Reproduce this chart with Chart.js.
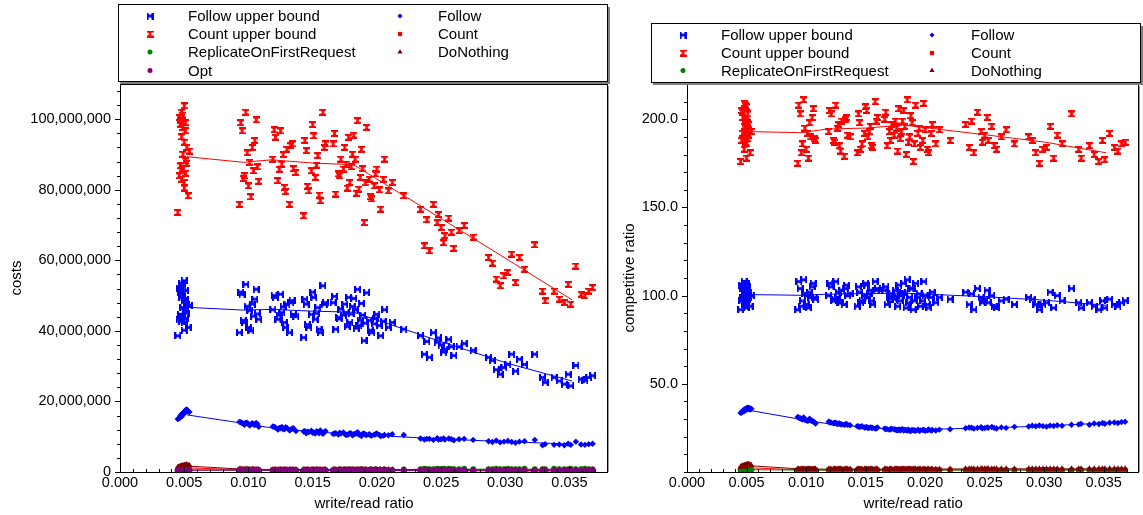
<!DOCTYPE html>
<html>
<head>
<meta charset="utf-8">
<script src="https://cdn.jsdelivr.net/npm/chart.js"></script>
<style>
  body { margin: 0; background: #fff; }
  #wrap { position: relative; width: 1143px; height: 515px; }
  .panel { position: absolute; top: 0; }
  #left { left: 0; }
  #right { left: 615px; }
</style>
</head>
<body>
<div id="wrap">
  <div class="panel" id="left"><canvas id="costChart" width="615" height="515"></canvas></div>
  <div class="panel" id="right"><canvas id="ratioChart" width="528" height="515"></canvas></div>
</div>
<script>
// write/read ratio of every run (clusters A..H, then a second batch of runs)
const ratio = [
  0.0045, 0.0046, 0.0047, 0.0047, 0.0048, 0.0048, 0.0049, 0.0049, 0.0050, 0.0050, 0.0051, 0.0051, 0.0052, 0.0053,
  0.0093, 0.0095, 0.0097, 0.0098, 0.0100, 0.0101, 0.0103, 0.0104, 0.0106, 0.0108,
  0.0119, 0.0121, 0.0123, 0.0125, 0.0126, 0.0128, 0.0130, 0.0132, 0.0134, 0.0137,
  0.0143, 0.0145, 0.0147, 0.0149, 0.0151, 0.0152, 0.0154, 0.0156, 0.0158, 0.0160,
  0.0166, 0.0168, 0.0170, 0.0172, 0.0174, 0.0176, 0.0178, 0.0179, 0.0181, 0.0183, 0.0185,
  0.0186, 0.0188, 0.0190, 0.0192, 0.0194, 0.0196, 0.0198, 0.0200, 0.0203, 0.0206, 0.0209,
  0.0212, 0.0221,
  0.0234, 0.0237, 0.0241, 0.0244, 0.0247, 0.0250, 0.0253, 0.0256, 0.0260, 0.0264, 0.0268, 0.0275,
  0.0287, 0.0290, 0.0293, 0.0296, 0.0299, 0.0302, 0.0305, 0.0308, 0.0311, 0.0315,
  0.0323,
  0.0329, 0.0331, 0.0338, 0.0342, 0.0346, 0.0349, 0.0351, 0.0355, 0.0359, 0.0362, 0.0365, 0.0368,
  // second batch
  0.0046, 0.0047, 0.0048, 0.0048, 0.0049, 0.0049, 0.0050, 0.0050, 0.0051, 0.0051, 0.0052, 0.0054,
  0.0094, 0.0096, 0.0099, 0.0102, 0.0105, 0.0107,
  0.0120, 0.0124, 0.0127, 0.0129, 0.0133, 0.0135,
  0.0144, 0.0146, 0.0150, 0.0153, 0.0155, 0.0159,
  0.0167, 0.0171, 0.0175, 0.0177, 0.0180, 0.0182, 0.0184, 0.0187, 0.0189, 0.0191, 0.0195, 0.0199, 0.0202, 0.0205,
  0.0239, 0.0248, 0.0252, 0.0258
];

// costs, in millions
const countUpper = [
  73.6, 84.0, 86.8, 99.6, 102.0, 85.4, 97.7, 90.1, 103.8, 82.1, 96.7, 88.2, 92.0, 78.3,
  75.9, 96.7, 84.0, 102.0, 81.1, 87.8, 92.0, 85.4, 99.8, 82.4,
  88.7, 94.9, 82.6, 96.7, 87.3, 80.7, 91.5, 75.9, 93.0, 84.9,
  72.6, 91.1, 79.7, 85.4, 95.3, 83.5, 89.7, 76.9, 102.0, 93.0,
  93.0, 78.8, 84.5, 88.7, 85.9, 87.3, 94.9, 82.1, 90.1, 88.7, 99.6,
  80.2, 91.5, 70.7, 97.7, 83.0, 77.4, 81.1, 85.9, 74.5, 88.7, 79.7,
  82.1, 78.3,
  74.5, 64.1, 62.7, 75.9, 70.7, 69.3, 67.0, 72.0, 63.4, 68.4, 69.9, 66.6,
  60.8, 59.2, 54.7, 52.8, 55.6, 56.6, 61.8, 53.7, 60.8, 57.5,
  64.4,
  51.3, 48.5, 51.3, 49.0, 48.1, 53.2, 47.6, 58.4, 50.4, 49.9, 51.3, 52.3,
  100.5, 98.6, 95.0, 83.0, 101.2, 86.0, 93.5, 80.5, 99.0, 84.7, 87.5, 91.0,
  99.0, 83.2, 90.5, 78.0, 94.0, 86.5,
  97.0, 85.8, 90.0, 79.5, 92.5, 86.0,
  94.0, 81.0, 98.5, 87.0, 78.5, 92.0,
  96.0, 84.0, 92.0, 80.5, 86.5, 95.5, 79.0, 83.5, 86.0, 82.0, 78.0, 84.5, 80.0, 83.0,
  71.5, 73.0, 65.0, 68.0
];
const followUpper = [
  38.6, 43.3, 44.7, 51.8, 53.5, 44.2, 50.4, 46.6, 54.2, 42.4, 49.0, 45.7, 47.6, 41.0,
  39.5, 50.4, 42.4, 53.2, 41.0, 45.7, 47.6, 44.2, 51.8, 43.3,
  46.0, 49.5, 43.3, 50.4, 45.2, 42.4, 47.6, 39.5, 48.5, 44.2,
  38.1, 47.6, 41.0, 44.7, 49.5, 43.3, 46.6, 39.5, 52.8, 48.0,
  48.0, 40.5, 43.8, 46.2, 44.5, 45.2, 49.5, 42.4, 47.0, 46.0, 51.8,
  41.5, 47.8, 37.2, 50.8, 43.0, 39.5, 42.0, 44.7, 38.6, 46.0, 41.0,
  42.4, 40.5,
  38.6, 33.4, 32.5, 39.5, 36.8, 36.0, 34.8, 37.6, 33.0, 35.5, 36.4, 34.5,
  32.5, 31.6, 29.0, 27.7, 29.6, 30.5, 33.4, 28.6, 32.0, 30.5,
  33.4,
  26.8, 25.4, 26.8, 25.8, 24.9, 27.7, 24.4, 30.2, 26.3, 26.0, 26.8, 27.3,
  52.0, 51.0, 49.5, 42.8, 52.8, 44.0, 48.5, 40.2, 51.5, 43.5, 45.0, 47.2,
  51.0, 43.0, 47.0, 40.0, 49.0, 44.8,
  50.0, 44.5, 46.8, 41.0, 48.0, 44.6,
  49.0, 41.8, 51.0, 45.0, 40.5, 47.5,
  49.8, 43.5, 47.6, 41.2, 44.8, 49.2, 40.8, 43.0, 44.5, 42.2, 40.2, 43.6, 41.5, 42.8,
  37.0, 38.0, 34.0, 35.5
];
const follow = [
  15.0, 15.3, 15.6, 15.9, 16.1, 16.4, 16.5, 16.7, 16.8, 17.0, 17.2, 17.5, 17.7, 17.2,
  14.2, 13.9, 13.4, 14.0, 13.6, 13.2, 13.8, 13.5, 13.9, 12.8,
  12.9, 12.6, 12.0, 12.4, 12.8, 12.1, 12.5, 11.8, 12.3, 11.6,
  11.5, 11.0, 11.3, 11.7, 11.2, 10.9, 11.4, 11.8, 10.8, 11.6,
  10.8, 11.0, 10.6, 10.9, 11.2, 10.5, 10.7, 11.0, 10.4, 10.8, 11.3,
  10.6, 10.2, 10.9, 10.5, 10.7, 10.3, 10.6, 10.9, 10.2, 10.5, 10.4,
  10.7, 10.5,
  9.5, 9.2, 9.4, 9.1, 9.6, 9.3, 9.2, 9.5, 9.0, 9.3, 9.4, 9.1,
  8.7, 8.5, 8.9, 8.4, 8.6, 8.8, 8.5, 8.3, 8.6, 8.7,
  9.1,
  7.6, 7.9, 7.7, 7.8, 7.6, 8.0, 7.7, 8.6, 7.8, 7.7, 7.9, 8.0,
  15.2, 15.8, 16.2, 15.7, 16.6, 16.3, 16.9, 17.1, 17.4, 16.9, 17.6, 17.0,
  14.1, 13.7, 13.9, 13.5, 13.3, 13.6,
  12.8, 12.5, 12.2, 12.7, 12.0, 12.4,
  11.6, 11.4, 11.1, 11.5, 11.0, 11.3,
  10.9, 11.1, 10.8, 10.6, 10.9, 10.7, 11.0, 10.5, 10.8, 10.6, 10.4, 10.7, 10.5, 10.3,
  9.4, 9.2, 9.5, 9.3
];
const count = [
  1.0, 1.0, 1.1, 1.1, 1.1, 1.2, 1.1, 1.2, 1.2, 1.2, 1.3, 1.2, 1.3, 1.2,
  0.6, 0.6, 0.5, 0.6, 0.5, 0.6, 0.5, 0.6, 0.5, 0.5,
  0.5, 0.5, 0.5, 0.5, 0.5, 0.5, 0.5, 0.5, 0.5, 0.5,
  0.5, 0.5, 0.5, 0.5, 0.5, 0.5, 0.5, 0.5, 0.5, 0.5,
  0.5, 0.5, 0.5, 0.5, 0.5, 0.5, 0.5, 0.5, 0.5, 0.5, 0.5,
  0.5, 0.5, 0.5, 0.5, 0.5, 0.5, 0.5, 0.5, 0.5, 0.5, 0.5,
  0.5, 0.5,
  0.4, 0.4, 0.4, 0.4, 0.4, 0.4, 0.4, 0.4, 0.4, 0.4, 0.4, 0.4,
  0.4, 0.4, 0.4, 0.4, 0.4, 0.4, 0.4, 0.4, 0.4, 0.4,
  0.4,
  0.4, 0.4, 0.4, 0.4, 0.4, 0.4, 0.4, 0.4, 0.4, 0.4, 0.4, 0.4,
  1.0, 1.1, 1.1, 1.1, 1.2, 1.1, 1.2, 1.2, 1.2, 1.2, 1.3, 1.2,
  0.6, 0.6, 0.5, 0.5, 0.5, 0.5,
  0.5, 0.5, 0.5, 0.5, 0.5, 0.5,
  0.5, 0.5, 0.5, 0.5, 0.5, 0.5,
  0.5, 0.5, 0.5, 0.5, 0.5, 0.5, 0.5, 0.5, 0.5, 0.5, 0.5, 0.5, 0.5, 0.5,
  0.4, 0.4, 0.4, 0.4
];
const replicate = [
  0.6, 0.5, 0.6, 0.6, 0.7, 0.6, 0.6, 0.7, 0.6, 0.7, 0.6, 0.7, 0.7, 0.6,
  0.6, 0.6, 0.6, 0.6, 0.6, 0.6, 0.6, 0.6, 0.6, 0.6,
  0.6, 0.6, 0.6, 0.6, 0.6, 0.6, 0.6, 0.6, 0.6, 0.6,
  0.6, 0.6, 0.6, 0.6, 0.6, 0.6, 0.6, 0.6, 0.6, 0.6,
  0.6, 0.6, 0.6, 0.7, 0.6, 0.6, 0.6, 0.7, 0.6, 0.6, 0.6,
  0.6, 0.7, 0.6, 0.6, 0.6, 0.7, 0.6, 0.6, 0.6, 0.7, 0.6,
  0.6, 0.7,
  0.8, 0.9, 0.8, 0.8, 0.9, 0.8, 0.8, 0.9, 0.8, 0.8, 0.9, 0.8,
  0.8, 0.8, 0.9, 0.8, 0.8, 0.9, 0.8, 0.8, 0.8, 0.9,
  0.8,
  0.8, 0.8, 0.9, 0.8, 0.8, 0.8, 0.9, 0.8, 0.8, 0.9, 0.8, 0.8,
  0.6, 0.6, 0.7, 0.6, 0.6, 0.7, 0.6, 0.6, 0.7, 0.6, 0.6, 0.6,
  0.6, 0.6, 0.6, 0.6, 0.6, 0.6,
  0.6, 0.6, 0.6, 0.6, 0.6, 0.6,
  0.6, 0.6, 0.6, 0.6, 0.6, 0.6,
  0.6, 0.6, 0.7, 0.6, 0.6, 0.6, 0.6, 0.7, 0.6, 0.6, 0.6, 0.7, 0.6, 0.6,
  0.8, 0.8, 0.9, 0.8
];
const doNothing = [
  1.3, 1.4, 1.5, 1.6, 1.5, 1.7, 1.6, 1.8, 1.7, 1.9, 1.8, 1.9, 2.0, 1.8,
  0.8, 0.8, 0.7, 0.8, 0.7, 0.7, 0.8, 0.7, 0.7, 0.7,
  0.7, 0.7, 0.7, 0.7, 0.7, 0.7, 0.7, 0.7, 0.7, 0.7,
  0.7, 0.7, 0.7, 0.7, 0.7, 0.7, 0.7, 0.7, 0.7, 0.7,
  0.7, 0.7, 0.7, 0.7, 0.7, 0.7, 0.7, 0.7, 0.7, 0.7, 0.7,
  0.7, 0.7, 0.7, 0.7, 0.7, 0.7, 0.7, 0.7, 0.7, 0.7, 0.7,
  0.7, 0.7,
  0.6, 0.6, 0.6, 0.6, 0.6, 0.6, 0.6, 0.6, 0.6, 0.6, 0.6, 0.6,
  0.6, 0.6, 0.6, 0.6, 0.6, 0.6, 0.6, 0.6, 0.6, 0.6,
  0.6,
  0.6, 0.6, 0.6, 0.6, 0.6, 0.6, 0.6, 0.6, 0.6, 0.6, 0.6, 0.6,
  1.4, 1.5, 1.6, 1.5, 1.7, 1.6, 1.8, 1.7, 1.9, 1.8, 2.0, 1.9,
  0.8, 0.7, 0.8, 0.7, 0.7, 0.7,
  0.7, 0.7, 0.7, 0.7, 0.7, 0.7,
  0.7, 0.7, 0.7, 0.7, 0.7, 0.7,
  0.7, 0.7, 0.7, 0.7, 0.7, 0.7, 0.7, 0.7, 0.7, 0.7, 0.7, 0.7, 0.7, 0.7,
  0.6, 0.6, 0.6, 0.6
];
const opt = [
  0.4, 0.5, 0.5, 0.5, 0.5, 0.5, 0.5, 0.5, 0.5, 0.5, 0.5, 0.5, 0.5, 0.5,
  0.5, 0.5, 0.5, 0.5, 0.5, 0.5, 0.5, 0.5, 0.5, 0.4,
  0.5, 0.5, 0.4, 0.5, 0.5, 0.4, 0.5, 0.4, 0.5, 0.4,
  0.4, 0.4, 0.4, 0.4, 0.4, 0.4, 0.4, 0.4, 0.4, 0.4,
  0.4, 0.4, 0.4, 0.4, 0.4, 0.4, 0.4, 0.4, 0.4, 0.4, 0.4,
  0.4, 0.4, 0.4, 0.4, 0.4, 0.4, 0.4, 0.4, 0.4, 0.4, 0.4,
  0.4, 0.4,
  0.4, 0.4, 0.4, 0.4, 0.4, 0.4, 0.4, 0.4, 0.3, 0.4, 0.4, 0.3,
  0.3, 0.3, 0.3, 0.3, 0.3, 0.3, 0.3, 0.3, 0.3, 0.3,
  0.3,
  0.3, 0.3, 0.3, 0.3, 0.3, 0.3, 0.3, 0.3, 0.3, 0.3, 0.3, 0.3,
  0.5, 0.5, 0.5, 0.5, 0.5, 0.5, 0.5, 0.5, 0.5, 0.5, 0.5, 0.5,
  0.5, 0.5, 0.5, 0.5, 0.5, 0.5,
  0.5, 0.5, 0.4, 0.5, 0.4, 0.4,
  0.4, 0.4, 0.4, 0.4, 0.4, 0.4,
  0.4, 0.4, 0.4, 0.4, 0.4, 0.4, 0.4, 0.4, 0.4, 0.4, 0.4, 0.4, 0.4, 0.4,
  0.4, 0.4, 0.4, 0.4
];

// competitive ratios
const countUpperRatio = [
  176, 188, 192, 204, 209, 190, 200, 195, 207, 186, 198, 194, 197, 181,
  175, 203, 186, 211, 183, 192, 198, 190, 206, 188,
  193, 203, 188, 208, 195, 185, 199, 179, 201, 190,
  181, 198, 186, 192, 205, 190, 196, 184, 210, 201,
  200, 185, 193, 197, 191, 195, 206, 189, 199, 196, 211,
  187, 202, 176, 208, 192, 184, 188, 194, 181, 197, 186,
  194, 188,
  197, 184, 181, 204, 193, 191, 188, 196, 183, 190, 194, 186,
  190, 188, 181, 175, 183, 184, 196, 178, 191, 186,
  203,
  183, 178, 185, 180, 176, 188, 177, 192, 184, 182, 186, 187,
  205, 201, 196, 183, 208, 187, 199, 178, 203, 189, 191, 193,
  208, 181, 195, 178, 201, 189,
  205, 187, 197, 182, 200, 191,
  203, 183, 207, 193, 185, 199,
  204, 188, 199, 182, 193, 205, 180, 190, 198, 186, 195, 209, 183, 192,
  199, 187, 201, 185
];
const followUpperRatio = [
  92, 97, 99, 105, 108, 98, 104, 101, 107, 96, 103, 100, 102, 94,
  92, 104, 97, 109, 95, 100, 102, 99, 107, 98,
  100, 105, 97, 108, 99, 96, 103, 95, 106, 101,
  94, 102, 97, 100, 106, 99, 103, 95, 108, 104,
  103, 95, 99, 101, 98, 100, 106, 97, 102, 101, 109,
  96, 104, 92, 107, 99, 94, 97, 100, 93, 102, 96,
  99, 98,
  102, 95, 92, 104, 99, 98, 96, 100, 93, 97, 98, 95,
  99, 98, 95, 92, 95, 96, 102, 93, 100, 97,
  104,
  96, 93, 96, 94, 92, 97, 93, 98, 95, 94, 96, 97,
  106, 104, 101, 95, 107, 97, 102, 93, 105, 98, 99, 100,
  108, 94, 101, 93, 105, 99,
  107, 98, 102, 96, 104, 100,
  105, 96, 107, 101, 97, 103,
  105, 98, 103, 94, 100, 107, 93, 99, 104, 97, 101, 108, 95, 99,
  101, 96, 103, 94
];
const followRatio = [
  33.5, 34.0, 34.3, 34.8, 35.0, 35.3, 35.6, 35.2, 35.9, 35.5, 36.1, 35.8, 36.0, 35.4,
  31.2, 30.5, 29.8, 30.9, 29.5, 29.0, 30.2, 29.3, 28.6, 27.5,
  28.5, 28.0, 27.6, 27.9, 27.2, 27.5, 27.0, 26.8, 27.3, 26.5,
  26.0, 25.6, 25.9, 25.2, 25.5, 24.9, 25.3, 25.0, 24.6, 25.2,
  24.6, 24.3, 24.0, 24.5, 24.2, 23.8, 24.1, 23.6, 24.3, 23.9, 23.5,
  24.0, 23.2, 23.7, 23.4, 24.0, 23.6, 23.9, 23.3, 24.1, 23.8, 23.5,
  24.0, 24.2,
  24.8, 25.2, 24.6, 25.0, 25.4, 24.9, 25.1, 25.5, 24.7, 25.3, 25.0, 25.6,
  25.8, 26.2, 25.9, 26.4, 26.0, 25.7, 26.3, 26.1, 26.5, 26.2,
  26.8,
  27.0, 27.3, 26.8, 27.5, 27.2, 27.8, 27.4, 27.9, 28.1, 27.8, 28.3, 28.5,
  33.8, 34.5, 35.1, 34.6, 35.7, 35.0, 35.8, 36.2, 36.3, 35.6, 36.4, 35.9,
  30.8, 30.2, 29.6, 29.2, 28.9, 28.2,
  28.2, 27.8, 27.4, 27.1, 26.9, 26.7,
  25.8, 25.7, 25.3, 25.0, 25.1, 24.8,
  24.4, 24.2, 24.0, 23.7, 24.1, 23.5, 23.8, 23.4, 23.9, 23.6, 23.3, 23.9, 23.6, 23.5,
  25.1, 24.8, 25.3, 25.0
];
const countRatio = [
  2.2, 2.2, 2.3, 2.3, 2.4, 2.4, 2.4, 2.5, 2.5, 2.5, 2.6, 2.5, 2.6, 2.5,
  1.3, 1.3, 1.2, 1.3, 1.2, 1.2, 1.3, 1.2, 1.2, 1.2,
  1.2, 1.2, 1.2, 1.2, 1.2, 1.2, 1.2, 1.2, 1.2, 1.2,
  1.2, 1.2, 1.2, 1.2, 1.2, 1.2, 1.2, 1.2, 1.2, 1.2,
  1.2, 1.2, 1.2, 1.2, 1.2, 1.2, 1.2, 1.2, 1.2, 1.2, 1.2,
  1.2, 1.2, 1.2, 1.2, 1.2, 1.2, 1.2, 1.2, 1.2, 1.2, 1.2,
  1.2, 1.2,
  1.2, 1.2, 1.2, 1.2, 1.2, 1.2, 1.2, 1.2, 1.2, 1.2, 1.2, 1.2,
  1.2, 1.2, 1.2, 1.2, 1.2, 1.2, 1.2, 1.2, 1.2, 1.2,
  1.2,
  1.2, 1.2, 1.2, 1.2, 1.2, 1.2, 1.2, 1.2, 1.2, 1.2, 1.2, 1.2,
  2.2, 2.3, 2.3, 2.4, 2.4, 2.4, 2.5, 2.5, 2.5, 2.5, 2.6, 2.5,
  1.3, 1.2, 1.2, 1.2, 1.2, 1.2,
  1.2, 1.2, 1.2, 1.2, 1.2, 1.2,
  1.2, 1.2, 1.2, 1.2, 1.2, 1.2,
  1.2, 1.2, 1.2, 1.2, 1.2, 1.2, 1.2, 1.2, 1.2, 1.2, 1.2, 1.2, 1.2, 1.2,
  1.2, 1.2, 1.2, 1.2
];
const replicateRatio = [
  1.2, 1.3, 1.3, 1.3, 1.4, 1.3, 1.3, 1.4, 1.3, 1.3, 1.4, 1.3, 1.3, 1.3,
  1.1, 1.1, 1.1, 1.1, 1.1, 1.1, 1.1, 1.1, 1.1, 1.1,
  1.1, 1.1, 1.1, 1.1, 1.1, 1.1, 1.1, 1.1, 1.1, 1.1,
  1.1, 1.1, 1.1, 1.1, 1.1, 1.1, 1.1, 1.1, 1.1, 1.1,
  1.1, 1.1, 1.1, 1.1, 1.1, 1.1, 1.1, 1.1, 1.1, 1.1, 1.1,
  1.1, 1.1, 1.1, 1.1, 1.1, 1.1, 1.1, 1.1, 1.1, 1.1, 1.1,
  1.1, 1.1,
  1.1, 1.1, 1.1, 1.1, 1.1, 1.1, 1.1, 1.1, 1.1, 1.1, 1.1, 1.1,
  1.1, 1.1, 1.1, 1.1, 1.1, 1.1, 1.1, 1.1, 1.1, 1.1,
  1.1,
  1.1, 1.1, 1.1, 1.1, 1.1, 1.1, 1.1, 1.1, 1.1, 1.1, 1.1, 1.1,
  1.3, 1.3, 1.3, 1.4, 1.3, 1.3, 1.3, 1.4, 1.3, 1.3, 1.3, 1.3,
  1.1, 1.1, 1.1, 1.1, 1.1, 1.1,
  1.1, 1.1, 1.1, 1.1, 1.1, 1.1,
  1.1, 1.1, 1.1, 1.1, 1.1, 1.1,
  1.1, 1.1, 1.1, 1.1, 1.1, 1.1, 1.1, 1.1, 1.1, 1.1, 1.1, 1.1, 1.1, 1.1,
  1.1, 1.1, 1.1, 1.1
];
const doNothingRatio = [
  2.8, 3.0, 3.2, 3.4, 3.3, 3.6, 3.5, 3.8, 3.7, 4.0, 3.9, 4.1, 4.3, 3.9,
  1.7, 1.7, 1.7, 1.7, 1.7, 1.7, 1.7, 1.7, 1.7, 1.7,
  1.6, 1.6, 1.6, 1.6, 1.6, 1.6, 1.6, 1.6, 1.6, 1.6,
  1.6, 1.6, 1.6, 1.6, 1.6, 1.6, 1.6, 1.6, 1.6, 1.6,
  1.6, 1.6, 1.6, 1.6, 1.6, 1.6, 1.6, 1.6, 1.6, 1.6, 1.6,
  1.6, 1.6, 1.6, 1.6, 1.6, 1.6, 1.6, 1.6, 1.6, 1.6, 1.6,
  1.6, 1.6,
  1.8, 1.8, 1.8, 1.8, 1.8, 1.8, 1.8, 1.8, 1.8, 1.8, 1.8, 1.8,
  1.8, 1.8, 1.8, 1.8, 1.8, 1.8, 1.8, 1.8, 1.8, 1.8,
  1.8,
  1.8, 1.8, 1.8, 1.8, 1.8, 1.8, 1.8, 1.8, 1.8, 1.8, 1.8, 1.8,
  3.1, 3.3, 3.5, 3.2, 3.7, 3.6, 3.9, 3.8, 4.1, 4.0, 4.2, 3.8,
  1.7, 1.7, 1.7, 1.7, 1.7, 1.7,
  1.6, 1.6, 1.6, 1.6, 1.6, 1.6,
  1.6, 1.6, 1.6, 1.6, 1.6, 1.6,
  1.6, 1.6, 1.6, 1.6, 1.6, 1.6, 1.6, 1.6, 1.6, 1.6, 1.6, 1.6, 1.6, 1.6,
  1.8, 1.8, 1.8, 1.8
];

// average lines, one vertex per cluster
const trendRatio = [0.0052, 0.0096, 0.0118, 0.0150, 0.0182, 0.0253, 0.0301, 0.0352];
const countUpperTrend = [89.4, 87.8, 88.5, 87.6, 87.1, 71.2, 60.4, 48.8];
const followUpperTrend = [46.7, 45.9, 46.1, 45.6, 45.3, 36.6, 30.9, 25.8];
const followTrend = [16.2, 13.8, 12.5, 11.4, 10.7, 9.3, 8.6, 7.9];
const countTrend = [1.2, 0.6, 0.5, 0.5, 0.5, 0.4, 0.4, 0.4];
const replicateTrend = [0.6, 0.6, 0.6, 0.6, 0.6, 0.8, 0.8, 0.8];
const doNothingTrend = [1.7, 0.8, 0.7, 0.7, 0.7, 0.6, 0.6, 0.6];
const optTrend = [0.5, 0.5, 0.5, 0.4, 0.4, 0.4, 0.3, 0.3];
const countUpperRatioTrend = [193, 192.4, 194.5, 195, 196.7, 191, 187, 181];
const followUpperRatioTrend = [100.6, 100.2, 100.8, 101.2, 101.4, 99.3, 97.4, 94.5];
const followRatioTrend = [35.0, 29.8, 27.4, 25.3, 23.9, 25.0, 26.1, 27.8];
const countRatioTrend = [2.4, 1.2, 1.2, 1.2, 1.2, 1.2, 1.2, 1.2];
const replicateRatioTrend = [1.3, 1.1, 1.1, 1.1, 1.1, 1.1, 1.1, 1.1];
const doNothingRatioTrend = [3.6, 1.7, 1.6, 1.6, 1.6, 1.8, 1.8, 1.8];

const FONT = "'Liberation Sans', Arial, sans-serif";
Chart.defaults.font.family = FONT;
Chart.defaults.font.size = 15;
Chart.defaults.color = '#000';

const BLUE = '#0000ff', RED = '#ff0000', GREEN = '#008000', DARKRED = '#800000', PURPLE = '#800080';

// bow-tie / hourglass markers for the upper bounds
function markerCanvas(color, vertical) {
  const s = 7;
  const c = document.createElement('canvas');
  c.width = s; c.height = s;
  const g = c.getContext('2d');
  g.fillStyle = color;
  g.beginPath();
  if (vertical) {
    g.moveTo(0, 0); g.lineTo(s, 0); g.lineTo(s / 2 + 1, s / 2); g.lineTo(s, s); g.lineTo(0, s); g.lineTo(s / 2 - 1, s / 2); g.closePath();
    g.rect(0, 0, s, 2); g.rect(0, s - 2, s, 2);
  } else {
    g.moveTo(0, 0); g.lineTo(s / 2, s / 2 - 1); g.lineTo(s, 0); g.lineTo(s, s); g.lineTo(s / 2, s / 2 + 1); g.lineTo(0, s); g.closePath();
    g.rect(0, 0, 2, s); g.rect(s - 2, 0, 2, s);
  }
  g.fill();
  return c;
}
const followUpperMark = markerCanvas(BLUE, false);
const countUpperMark = markerCanvas(RED, true);

function pts(ys) { return ratio.map((x, i) => ({ x: x, y: ys[i] })); }
function trend(ys) { return trendRatio.map((x, i) => ({ x: x, y: ys[i] })); }

// first in the list is drawn on top
function panelDatasets(series) {
  const out = [];
  series.forEach(s => {
    out.push({
      label: s.label, data: pts(s.ys), showLine: false,
      pointStyle: s.style, pointRadius: s.r, pointHoverRadius: s.r,
      backgroundColor: s.color, borderColor: s.color, borderWidth: 0
    });
    out.push({
      label: '', data: trend(s.trend), showLine: true, pointRadius: 0,
      borderColor: s.color, backgroundColor: s.color, borderWidth: 1, fill: false
    });
  });
  return out;
}

function drawMarker(ctx, item, x, y) {
  ctx.fillStyle = item.color;
  ctx.strokeStyle = item.color;
  Chart.helpers.drawPoint(ctx, { pointStyle: item.style, radius: item.r, rotation: 0, borderWidth: 0 }, x, y);
}

const framePlugin = {
  id: 'frame',
  afterDraw(chart, args, opts) {
    const ctx = chart.ctx;
    const a = chart.chartArea;
    const xs = chart.scales.x, ys = chart.scales.y;
    ctx.save();
    ctx.lineWidth = 1;
    // tick marks: x inward, y outward
    ctx.strokeStyle = '#000';
    ctx.beginPath();
    xs.ticks.forEach(t => {
      const px = Math.round(xs.getPixelForValue(t.value)) + 0.5;
      const len = t.label ? 5 : 3;
      ctx.moveTo(px, a.bottom); ctx.lineTo(px, a.bottom - len);
    });
    ys.ticks.forEach(t => {
      const py = Math.round(ys.getPixelForValue(t.value)) + 0.5;
      const len = t.label ? 5 : 3;
      ctx.moveTo(a.left, py); ctx.lineTo(a.left - len, py);
    });
    ctx.stroke();
    // plot frame
    const L = Math.round(a.left), T = Math.round(a.top), R = Math.round(a.right), B = Math.round(a.bottom);
    ctx.strokeRect(L + 0.5, T + 0.5, R - L - 1, B - T);
    ctx.strokeStyle = '#9a9a9a';
    ctx.beginPath(); ctx.moveTo(R + 0.5, T + 2); ctx.lineTo(R + 0.5, B); ctx.stroke();

    // legend box
    const [bx, by, bw, bh] = opts.box;
    ctx.fillStyle = '#fff';
    ctx.fillRect(bx, by, bw, bh);
    ctx.strokeStyle = '#000';
    ctx.strokeRect(bx + 0.5, by + 0.5, bw, bh);
    ctx.strokeStyle = '#808080';
    ctx.lineWidth = 2;
    ctx.beginPath();
    ctx.moveTo(bx + 2, by + bh + 2); ctx.lineTo(bx + bw + 2, by + bh + 2); ctx.lineTo(bx + bw + 2, by + 3);
    ctx.stroke();
    ctx.lineWidth = 1;
    ctx.font = '15px ' + FONT;
    ctx.textBaseline = 'middle';
    ctx.textAlign = 'left';
    opts.items.forEach(item => {
      const col = opts.cols[item.col];
      const y = opts.rows[item.row];
      drawMarker(ctx, item, col[0], y);
      ctx.fillStyle = '#000';
      ctx.fillText(item.label, col[1], y + 1);
    });
    ctx.restore();
  }
};

function xScale() {
  return {
    type: 'linear', position: 'bottom', min: 0, max: 0.038,
    grid: { display: false, drawTicks: false },
    border: { display: false },
    ticks: {
      stepSize: 0.001, autoSkip: false, maxRotation: 0, minRotation: 0, padding: 2,
      font: { size: 14.5 },
      callback: v => Math.round(v * 1000) % 5 === 0 ? v.toFixed(3) : ''
    },
    title: { display: true, text: 'write/read ratio', font: { size: 15 }, padding: { top: 0, bottom: 2 } },
    afterFit: s => { s.height = 43; }
  };
}

const legendLeft = [
  { label: 'Follow upper bound', style: followUpperMark, color: BLUE, r: 3, col: 0, row: 0 },
  { label: 'Follow', style: 'rectRot', color: BLUE, r: 2.5, col: 1, row: 0 },
  { label: 'Count upper bound', style: countUpperMark, color: RED, r: 3, col: 0, row: 1 },
  { label: 'Count', style: 'rect', color: RED, r: 3, col: 1, row: 1 },
  { label: 'ReplicateOnFirstRequest', style: 'circle', color: GREEN, r: 2.5, col: 0, row: 2 },
  { label: 'DoNothing', style: 'triangle', color: DARKRED, r: 3, col: 1, row: 2 },
  { label: 'Opt', style: 'circle', color: PURPLE, r: 2.5, col: 0, row: 3 }
];
const legendRight = legendLeft.slice(0, 6);

new Chart(document.getElementById('costChart'), {
  type: 'scatter',
  data: {
    datasets: panelDatasets([
      { label: 'Opt', ys: opt, trend: optTrend, style: 'circle', r: 3.2, color: PURPLE },
      { label: 'DoNothing', ys: doNothing, trend: doNothingTrend, style: 'triangle', r: 3.6, color: DARKRED },
      { label: 'ReplicateOnFirstRequest', ys: replicate, trend: replicateTrend, style: 'circle', r: 3, color: GREEN },
      { label: 'Follow', ys: follow, trend: followTrend, style: 'rectRot', r: 3.2, color: BLUE },
      { label: 'Follow upper bound', ys: followUpper, trend: followUpperTrend, style: followUpperMark, r: 3, color: BLUE },
      { label: 'Count upper bound', ys: countUpper, trend: countUpperTrend, style: countUpperMark, r: 3, color: RED },
      { label: 'Count', ys: count, trend: countTrend, style: 'rect', r: 3, color: RED }
    ])
  },
  options: {
    responsive: false, animation: false, events: [],
    layout: { padding: { top: 84, right: 7, left: 0, bottom: 0 } },
    plugins: {
      legend: { display: false }, tooltip: { enabled: false },
      frame: { box: [118, 4, 489, 77], items: legendLeft, cols: [[150, 188], [400, 438]], rows: [16, 34, 52, 70.5] }
    },
    scales: {
      x: xScale(),
      y: {
        type: 'linear', min: 0, max: 110,
        grid: { display: false, drawTicks: false },
        border: { display: false },
        ticks: {
          stepSize: 4, includeBounds: false, autoSkip: false, padding: 9, font: { size: 14.5 },
          callback: v => v % 20 === 0 ? (v * 1000000).toLocaleString('en-US') : ''
        },
        title: { display: true, text: 'costs', font: { size: 15 }, padding: { top: 8, bottom: 0 } },
        afterFit: s => { s.width = 120; }
      }
    }
  },
  plugins: [framePlugin]
});

new Chart(document.getElementById('ratioChart'), {
  type: 'scatter',
  data: {
    datasets: panelDatasets([
      { label: 'DoNothing', ys: doNothingRatio, trend: doNothingRatioTrend, style: 'triangle', r: 3.6, color: DARKRED },
      { label: 'ReplicateOnFirstRequest', ys: replicateRatio, trend: replicateRatioTrend, style: 'circle', r: 3, color: GREEN },
      { label: 'Follow', ys: followRatio, trend: followRatioTrend, style: 'rectRot', r: 3.2, color: BLUE },
      { label: 'Follow upper bound', ys: followUpperRatio, trend: followUpperRatioTrend, style: followUpperMark, r: 3, color: BLUE },
      { label: 'Count upper bound', ys: countUpperRatio, trend: countUpperRatioTrend, style: countUpperMark, r: 3, color: RED },
      { label: 'Count', ys: countRatio, trend: countRatioTrend, style: 'rect', r: 3, color: RED }
    ])
  },
  options: {
    responsive: false, animation: false, events: [],
    layout: { padding: { top: 84, right: 3, left: 0, bottom: 0 } },
    plugins: {
      legend: { display: false }, tooltip: { enabled: false },
      frame: { box: [36, 23, 489, 59], items: legendRight, cols: [[68, 106], [317, 356]], rows: [35, 53, 70.5] }
    },
    scales: {
      x: xScale(),
      y: {
        type: 'linear', min: 0, max: 220,
        grid: { display: false, drawTicks: false },
        border: { display: false },
        ticks: {
          stepSize: 10, autoSkip: false, padding: 9, font: { size: 14.5 },
          callback: v => (v > 0 && v % 50 === 0) ? v.toFixed(1) : ''
        },
        title: { display: true, text: 'competitive ratio', font: { size: 15 }, padding: { top: 6, bottom: 0 } },
        afterFit: s => { s.width = 72; }
      }
    }
  },
  plugins: [framePlugin]
});
</script>
</body>
</html>
